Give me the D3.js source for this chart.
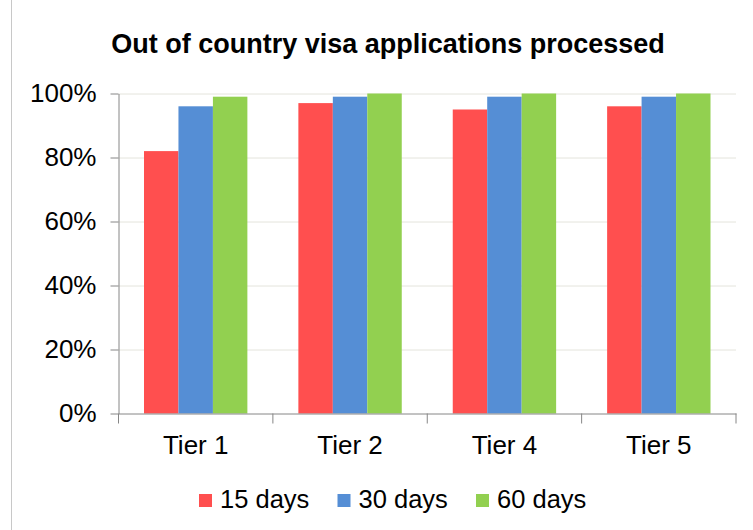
<!DOCTYPE html>
<html>
<head>
<meta charset="utf-8">
<script src="https://cdn.jsdelivr.net/npm/d3@7"></script>
<style>
  body { margin: 0; background: #fff; }
  text { font-family: Arial, "Liberation Sans", sans-serif; fill: #000; }
</style>
</head>
<body>
<div id="chart"></div>
<script>
var tiers = ["Tier 1", "Tier 2", "Tier 4", "Tier 5"];
var seriesNames = ["15 days", "30 days", "60 days"];
var days15 = [0.82, 0.97, 0.95, 0.96];
var days30 = [0.96, 0.99, 0.99, 0.99];
var days60 = [0.99, 1.00, 1.00, 1.00];
var yTicks = [0, 0.2, 0.4, 0.6, 0.8, 1.0];
var colors = ["#ff4f4f", "#558ed5", "#92d050"];

var svgWidth = 753;
var svgHeight = 530;

var margin = { top: 93.5, right: 17, bottom: 116.5, left: 118.5 };
var width = svgWidth - margin.left - margin.right;
var height = svgHeight - margin.top - margin.bottom;

var svg = d3.select("#chart")
  .append("svg")
  .attr("width", svgWidth)
  .attr("height", svgHeight);

// thin frame line on the left edge
svg.append("line")
  .attr("x1", 11.5).attr("x2", 11.5)
  .attr("y1", 0).attr("y2", svgHeight)
  .attr("stroke", "#c8c8c8");

var chartGroup = svg.append("g")
  .attr("transform", `translate(${margin.left}, ${margin.top})`);

// table built from the series arrays
var allSeries = [days15, days30, days60];
var rows = tiers.map(function(t, i) {
  return { tier: t, values: seriesNames.map(function(s, j) {
    return { name: s, value: allSeries[j][i], color: colors[j] };
  }) };
});

var x0 = d3.scaleBand().domain(tiers).range([0, width]);
var x1 = d3.scaleBand().domain(seriesNames)
  .range([0, x0.bandwidth()])
  .paddingOuter(0.74);
var y = d3.scaleLinear().domain([0, 1]).range([height, 0]);

// gridlines
chartGroup.append("g")
  .attr("class", "grid")
  .call(d3.axisLeft(y).tickValues(yTicks.slice(1)).tickSize(-width).tickFormat(""))
  .call(function(g) { g.select(".domain").remove(); })
  .selectAll("line")
  .attr("stroke", "#e4e4dc");

// bars
var groups = chartGroup.selectAll(".tier")
  .data(rows)
  .enter()
  .append("g")
  .attr("class", "tier")
  .attr("transform", d => `translate(${x0(d.tier)}, 0)`);

groups.selectAll("rect")
  .data(d => d.values)
  .enter()
  .append("rect")
  .attr("x", d => x1(d.name))
  .attr("y", d => y(d.value))
  .attr("width", x1.bandwidth())
  .attr("height", d => height - y(d.value))
  .attr("fill", d => d.color);

// y axis
var leftAxis = d3.axisLeft(y)
  .tickValues(yTicks)
  .tickFormat(d3.format(".0%"))
  .tickSize(8)
  .tickSizeOuter(0)
  .tickPadding(14);

chartGroup.append("g")
  .call(leftAxis)
  .call(function(g) {
    g.selectAll("line").attr("stroke", "#868686");
    g.select(".domain").attr("stroke", "#868686");
    g.selectAll("text").attr("font-size", "26px").attr("fill", "#000")
      .style("font-family", "Arial, 'Liberation Sans', sans-serif");
  });

// x axis: labels at band centres
var bottomAxis = d3.axisBottom(x0).tickSize(0).tickPadding(22);
chartGroup.append("g")
  .attr("transform", `translate(0, ${height})`)
  .call(bottomAxis)
  .call(function(g) {
    g.select(".domain").attr("stroke", "#868686");
    g.selectAll("text").attr("font-size", "26px").attr("fill", "#000")
      .style("font-family", "Arial, 'Liberation Sans', sans-serif");
  });

// x tick marks at band boundaries
var bounds = tiers.map(t => x0(t)).concat([x0.range()[1]]);
chartGroup.selectAll(".xtick")
  .data(bounds)
  .enter()
  .append("line")
  .attr("class", "xtick")
  .attr("x1", d => d).attr("x2", d => d)
  .attr("y1", height).attr("y2", height + 10)
  .attr("stroke", "#868686");

// title
svg.append("text")
  .attr("x", 388)
  .attr("y", 53)
  .attr("text-anchor", "middle")
  .attr("font-size", "27px")
  .attr("font-weight", "bold")
  .text("Out of country visa applications processed");

// legend
var legendX = d3.scaleBand().domain(seriesNames).range([199, 199 + 3 * 138.5]);
var legend = svg.selectAll(".legend")
  .data(seriesNames)
  .enter()
  .append("g")
  .attr("class", "legend")
  .attr("transform", d => `translate(${legendX(d)}, 494)`);

legend.append("rect")
  .attr("width", 13)
  .attr("height", 13)
  .attr("fill", (d, i) => colors[i]);

legend.append("text")
  .attr("x", 21)
  .attr("y", 14)
  .attr("font-size", "25.5px")
  .text(d => d);
</script>
</body>
</html>
